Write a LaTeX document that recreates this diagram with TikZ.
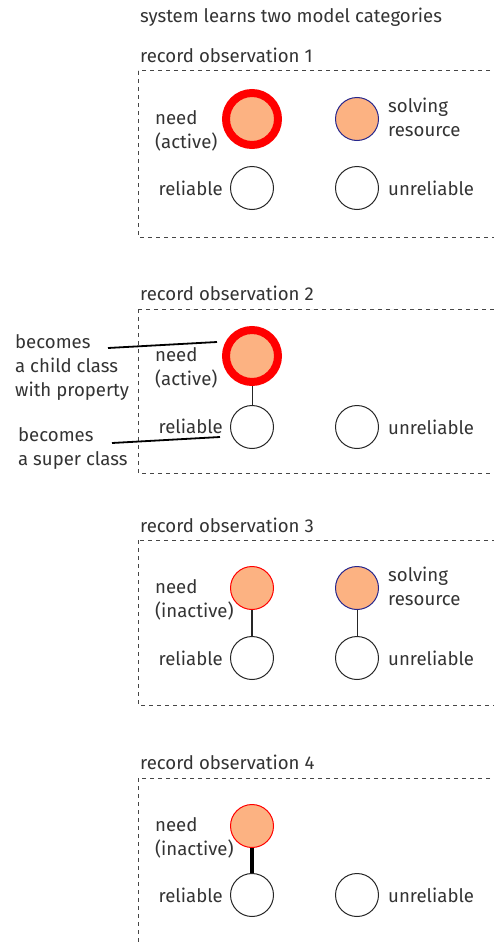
\documentclass[tikz,border=0pt]{standalone}
\usepackage{fontspec}
\setmainfont{Fira Sans}
\usepackage{xcolor}
\usepackage{tikz}
\usetikzlibrary{positioning}

\definecolor{salmon}{RGB}{252,178,130}
\definecolor{navyline}{RGB}{38,38,140}
\definecolor{framegray}{RGB}{70,70,70}

\begin{document}
\begin{tikzpicture}[x=1pt, y=-1pt,
        every node/.style={font=\fontsize{18.6}{24}\selectfont, text=black!80, inner sep=0pt},
        frame/.style={draw=framegray, line width=1pt, dash pattern=on 4pt off 4pt},
        hint/.style={draw=black, line width=1.8pt},
        label/.style={align=left},
        class/.style={circle, draw=black!85, line width=1pt, minimum size=43pt},
        needon/.style={circle, fill=salmon, draw=red, line width=8pt, minimum size=52pt},
        needoff/.style={class, fill=salmon, draw=red},
        resource/.style={class, fill=salmon, draw=navyline},
        link/.style={draw=black!85, line width=1pt}
    ]
    \useasboundingbox (0,0) rectangle (494,942);

    \node[anchor=west] (title) at (140,17) {system learns two model categories};

    % observation 1
    \node[anchor=west] (obs1) at (140,55) {record observation 1};
    \draw[frame] (138,71) rectangle (520,237);
    \node[needon] (need1) at (252,119) {};
    \node[resource] (res1) at (357,119) {};
    \node[class] (rel1) at (252,188) {};
    \node[class] (unrel1) at (357,188) {};
    \node[label, anchor=west] (needtxt1) at (155,131) {need\\(active)};
    \node[label, anchor=west] (restxt1) at (388,117.5) {solving\\resource};
    \node[anchor=east] (reltxt1) at (223,188) {reliable};
    \node[anchor=west] (unreltxt1) at (388,188) {unreliable};

    % observation 2
    \node[anchor=west] (obs2) at (140,293) {record observation 2};
    \draw[frame] (138,309) rectangle (520,473);
    \node[needon] (need2) at (252,356) {};
    \node[class] (rel2) at (252,427) {};
    \node[class] (unrel2) at (357,427) {};
    \draw[link] (need2) -- (rel2);
    \node[label, anchor=west] (needtxt2) at (155,368) {need\\(active)};
    \node[anchor=east] (reltxt2) at (223,426) {reliable};
    \node[anchor=west] (unreltxt2) at (388,427) {unreliable};
    \node[label, anchor=west] (childtxt) at (15,368) {becomes\\a child class\\with property};
    \node[label, anchor=west] (supertxt) at (18,449) {becomes\\a super class};
    \coordinate (childfrom) at (108,348);
    \coordinate (childto) at (217,342);
    \coordinate (superfrom) at (112,443);
    \coordinate (superto) at (220,437);
    \draw[hint] (childfrom) -- (childto);
    \draw[hint] (superfrom) -- (superto);

    % observation 3
    \node[anchor=west] (obs3) at (140,525) {record observation 3};
    \draw[frame] (138,540) rectangle (520,705);
    \node[needoff] (need3) at (252,588) {};
    \node[resource] (res3) at (357,588) {};
    \node[class] (rel3) at (252,658) {};
    \node[class] (unrel3) at (357,658) {};
    \draw[link, line width=2.6pt] (need3) -- (rel3);
    \draw[link] (res3) -- (unrel3);
    \node[label, anchor=west] (needtxt3) at (155,600) {need\\(inactive)};
    \node[label, anchor=west] (restxt3) at (388,586.5) {solving\\resource};
    \node[anchor=east] (reltxt3) at (223,658) {reliable};
    \node[anchor=west] (unreltxt3) at (388,658) {unreliable};

    % observation 4
    \node[anchor=west] (obs4) at (140,762) {record observation 4};
    \draw[frame] (138,778) rectangle (520,980);
    \node[needoff] (need4) at (252,826) {};
    \node[class] (rel4) at (252,895) {};
    \node[class] (unrel4) at (357,895) {};
    \draw[link, draw=black, line width=4.6pt] (need4) -- (rel4);
    \node[label, anchor=west] (needtxt4) at (155,838) {need\\(inactive)};
    \node[anchor=east] (reltxt4) at (223,895) {reliable};
    \node[anchor=west] (unreltxt4) at (388,895) {unreliable};
\end{tikzpicture}
\end{document}
